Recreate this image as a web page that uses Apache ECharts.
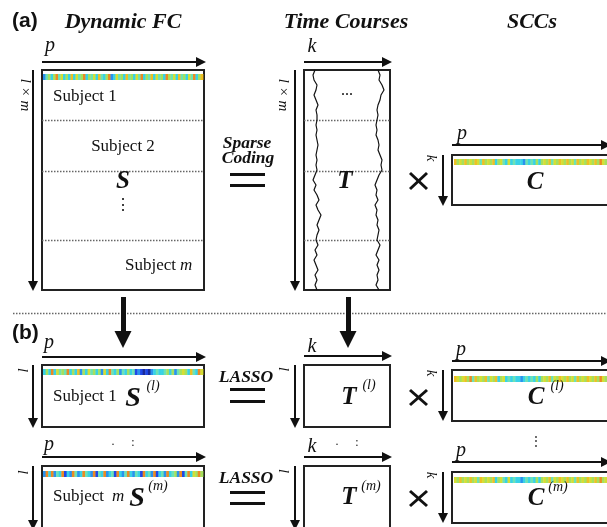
<!DOCTYPE html>
<html>
<head>
<meta charset="utf-8">
<script src="https://cdn.jsdelivr.net/npm/echarts@6/dist/echarts.min.js"></script>
<style>
  html, body { margin: 0; padding: 0; background: #fff; }
  #main { width: 607px; height: 527px; }
</style>
</head>
<body>
<div id="main"></div>
<script>
// diagram space: x 0..607, y 0..527 (y grows downward)

// matrix outlines [x0, y0, x1, y1]
var boxes = [
  [42, 70, 204, 290], [304, 70, 390, 290], [452, 155, 612, 205],
  [42, 365, 204, 427], [304, 365, 390, 427], [452, 370, 612, 421],
  [42, 466, 204, 540], [304, 466, 390, 540], [452, 472, 612, 523]
];

// dotted dividers [x0, y0, x1, y1]
var dividers = [
  [42, 120, 204, 120], [42, 171, 204, 171], [42, 240, 204, 240],
  [304, 120, 390, 120], [304, 171, 390, 171], [304, 240, 390, 240],
  [13, 313, 607, 313]
];

// dimension arrows, tip at the second point
var arrows = [
  [42, 62, 206, 62], [304, 62, 392, 62], [452, 145, 611, 145],
  [33, 70, 33, 291], [295, 70, 295, 291], [443, 155, 443, 206],
  [42, 357, 206, 357], [304, 356, 392, 356], [452, 361, 611, 361],
  [33, 365, 33, 428], [295, 365, 295, 428], [443, 370, 443, 421],
  [42, 457, 206, 457], [304, 457, 392, 457], [452, 462, 611, 462],
  [33, 466, 33, 530], [295, 466, 295, 530], [443, 472, 443, 523]
];
var bigArrows = [[123, 297, 123, 348], [348, 297, 348, 348]];

// "=" and "x" operator strokes
var strokes = [
  [230, 174, 265, 174], [230, 185, 265, 185],
  [230, 389, 265, 389], [230, 401, 265, 401],
  [230, 492, 265, 492], [230, 503, 265, 503],
  [410, 173, 427, 189], [410, 189, 427, 173],
  [410, 390, 427, 405], [410, 405, 427, 390],
  [410, 491, 427, 506], [410, 506, 427, 491]
];

// colour stripes: [x0, x1, y0, y1, values 0..9 (jet)]
var stripes = [
  [43, 203, 74, 80, '2453584635373645835463743582364537453648354736453854637453648357'],
  [454, 607, 159, 165, '756575657647565735643634333243435356574657657564756576575865'],
  [43, 203, 369, 375, '3538364548353725364535263843524353412101023433453524565374386'],
  [454, 607, 376, 382, '765675847565746573563434332343435356574657657564756576575865'],
  [43, 203, 471, 477, '2838243813284238432814382341832483243183428134283452814836585'],
  [454, 607, 477, 483, '657565756476565735643634332343435356574657657564756576575856']
];

// time courses in T
var tcY = [70, 75, 80, 85, 90, 95, 100, 105, 110, 115, 120, 125, 130, 135, 140, 145, 150, 155, 160, 165,
  170, 175, 180, 185, 190, 195, 200, 205, 210, 215, 220, 225, 230, 235, 240, 245, 250, 255, 260, 265,
  270, 275, 280, 285, 290];
var tcLeft = [315, 313, 314, 317, 316, 314, 316, 318, 316, 317, 317, 316, 317, 316, 317, 318, 317, 316, 317, 316,
  317, 315, 313, 316, 314, 317, 319, 316, 318, 321, 319, 317, 319, 317, 316, 318, 315, 317, 314, 316,
  318, 315, 317, 315, 317];
var tcRight = [378, 380, 379, 382, 384, 381, 380, 378, 377, 378, 377, 376, 377, 376, 378, 379, 378, 380, 382, 381,
  382, 379, 377, 375, 377, 376, 378, 375, 377, 376, 378, 377, 379, 378, 377, 380, 378, 376, 379, 377,
  379, 377, 378, 376, 379];

// texts: [x, y, text, style, align, rotated]
var texts = [
  [12, 21, '(a)', 'panel', 'left'],
  [123, 22, 'Dynamic FC', 'title'],
  [346, 22, 'Time Courses', 'title'],
  [532, 22, 'SCCs', 'title'],
  [50, 46, 'p', 'dim'], [312, 47, 'k', 'dim'], [462, 134, 'p', 'dim'],
  [25, 95, 'l × m', 'dimRot', 'center', 1], [283, 95, 'l × m', 'dimRot', 'center', 1],
  [431, 158, 'k', 'dimRot', 'center', 1],
  [53, 97, 'Subject 1', 'subject', 'left'],
  [123, 147, 'Subject 2', 'subject'],
  [123, 182, 'S', 'mat'],
  [123, 206, '⋮', 'dots'],
  [125, 266, 'Subject', 'subject', 'left'], [180, 266, 'm', 'subjectIt', 'left'],
  [247, 143, 'Sparse', 'op'], [248, 158, 'Coding', 'op'],
  [347, 91, '...', 'dots'],
  [345, 182, 'T', 'mat'],
  [535, 183, 'C', 'mat'],
  [12, 333, '(b)', 'panel', 'left'],
  [49, 343, 'p', 'dim'], [312, 347, 'k', 'dim'], [461, 350, 'p', 'dim'],
  [22, 370, 'l', 'dimRot', 'center', 1], [283, 369, 'l', 'dimRot', 'center', 1], [431, 373, 'k', 'dimRot', 'center', 1],
  [53, 397, 'Subject 1', 'subject', 'left'],
  [133, 399, 'S', 'matBig'], [153, 386, '(l)', 'sup'],
  [246, 377, 'LASSO', 'op'],
  [349, 398, 'T', 'mat'], [369, 385, '(l)', 'sup'],
  [536, 398, 'C', 'mat'], [557, 386, '(l)', 'sup'],
  [49, 445, 'p', 'dim'], [113, 442, '.', 'small'], [133, 443, ':', 'small'],
  [312, 447, 'k', 'dim'], [337, 442, '.', 'small'], [357, 443, ':', 'small'],
  [536, 442, '⋮', 'small'], [461, 451, 'p', 'dim'],
  [22, 472, 'l', 'dimRot', 'center', 1], [283, 471, 'l', 'dimRot', 'center', 1], [431, 475, 'k', 'dimRot', 'center', 1],
  [53, 497, 'Subject', 'subject', 'left'], [112, 497, 'm', 'subjectIt', 'left'],
  [137, 499, 'S', 'matBig'], [158, 486, '(m)', 'sup'],
  [246, 478, 'LASSO', 'op'],
  [349, 498, 'T', 'mat'], [371, 486, '(m)', 'sup'],
  [536, 499, 'C', 'mat'], [558, 487, '(m)', 'sup']
];

var SERIF = '"Liberation Serif", "Times New Roman", serif';
var fonts = {
  panel: 'bold 21px "Liberation Sans", Arial, sans-serif',
  title: 'italic bold 22px ' + SERIF,
  dim: 'italic 20px ' + SERIF,
  dimRot: 'italic 15px ' + SERIF,
  subject: '17px ' + SERIF,
  subjectIt: 'italic 17px ' + SERIF,
  mat: 'italic bold 25px ' + SERIF,
  matBig: 'italic bold 28px ' + SERIF,
  sup: 'italic 14px ' + SERIF,
  op: 'italic bold 17.5px ' + SERIF,
  dots: '16px ' + SERIF,
  small: '12px ' + SERIF
};
var jet = ['#1a2a9a', '#1f48e8', '#2a92ee', '#38d2e6', '#6ee2b4', '#a6e05e', '#d6de34', '#eec024', '#ec8a22', '#cc3a16'];

function segs(list, head) {
  return list.map(function (s) {
    var dx = s[2] - s[0], dy = s[3] - s[1];
    var len = Math.sqrt(dx * dx + dy * dy);
    var cut = head ? head / 2 : 0;
    return { coords: [[s[0], s[1]], [s[2] - dx / len * cut, s[3] - dy / len * cut]] };
  });
}

var cells = [];
stripes.forEach(function (s) {
  var n = s[4].length, w = (s[1] - s[0]) / n;
  for (var i = 0; i < n; i++) {
    cells.push([s[0] + i * w, s[0] + (i + 1) * w + 0.4, s[2], s[3], +s[4][i]]);
  }
});

var chart = echarts.init(document.getElementById('main'));
var option = {
  backgroundColor: '#ffffff',
  animation: false,
  grid: { left: 0, right: 0, top: 0, bottom: 0 },
  xAxis: { type: 'value', min: 0, max: 607, show: false },
  yAxis: { type: 'value', min: 0, max: 527, inverse: true, show: false },
  visualMap: {
    show: false, type: 'continuous', min: 0, max: 9, dimension: 4, seriesIndex: 1,
    inRange: { color: jet }
  },
  series: [
    {
      type: 'custom', name: 'boxes', coordinateSystem: 'cartesian2d',
      encode: { x: [0, 2], y: [1, 3] },
      data: boxes,
      renderItem: function (params, api) {
        var a = api.coord([api.value(0), api.value(1)]);
        var b = api.coord([api.value(2), api.value(3)]);
        return {
          type: 'rect',
          shape: { x: a[0], y: a[1], width: b[0] - a[0], height: b[1] - a[1] },
          style: { fill: 'none', stroke: '#222', lineWidth: 2 }
        };
      }
    },
    {
      type: 'custom', name: 'stripes', coordinateSystem: 'cartesian2d',
      encode: { x: [0, 1], y: [2, 3] },
      data: cells,
      z: 3,
      renderItem: function (params, api) {
        var a = api.coord([api.value(0), api.value(2)]);
        var b = api.coord([api.value(1), api.value(3)]);
        return {
          type: 'rect',
          shape: { x: a[0], y: a[1], width: b[0] - a[0], height: b[1] - a[1] },
          style: { fill: api.visual('color') }
        };
      }
    },
    {
      type: 'lines', name: 'dividers', coordinateSystem: 'cartesian2d',
      data: segs(dividers, 0), symbol: 'none',
      lineStyle: { color: '#666', width: 1.3, type: [1.5, 1.5], opacity: 1 }
    },
    {
      type: 'lines', name: 'arrows', coordinateSystem: 'cartesian2d',
      data: segs(arrows, 10), symbol: ['none', 'triangle'], symbolSize: 10,
      lineStyle: { color: '#111', width: 2, opacity: 1 },
      itemStyle: { color: '#111' }
    },
    {
      type: 'lines', name: 'bigArrows', coordinateSystem: 'cartesian2d',
      data: segs(bigArrows, 17), symbol: ['none', 'triangle'], symbolSize: 17,
      lineStyle: { color: '#111', width: 5, opacity: 1 }
    },
    {
      type: 'lines', name: 'operators', coordinateSystem: 'cartesian2d',
      data: segs(strokes, 0), symbol: 'none',
      lineStyle: { color: '#111', width: 3, opacity: 1 }
    },
    {
      type: 'line', name: 'tc1', showSymbol: false, symbol: 'none',
      data: tcY.map(function (y, i) { return [tcLeft[i], y]; }),
      lineStyle: { color: '#111', width: 1.2 }
    },
    {
      type: 'line', name: 'tc2', showSymbol: false, symbol: 'none',
      data: tcY.map(function (y, i) { return [tcRight[i], y]; }),
      lineStyle: { color: '#111', width: 1.2 }
    },
    {
      type: 'custom', name: 'texts', coordinateSystem: 'cartesian2d',
      encode: { x: 0, y: 1 },
      data: texts.map(function (t, i) { return [t[0], t[1], i]; }),
      z: 5,
      renderItem: function (params, api) {
        var t = texts[params.dataIndex];
        var p = api.coord([t[0], t[1]]);
        return {
          type: 'text', x: p[0], y: p[1],
          rotation: t[5] ? -Math.PI / 2 : 0,
          style: {
            text: t[2], font: fonts[t[3]], fill: '#111',
            align: t[4] || 'center', verticalAlign: 'middle'
          }
        };
      }
    }
  ]
};
chart.setOption(option);
</script>
</body>
</html>
